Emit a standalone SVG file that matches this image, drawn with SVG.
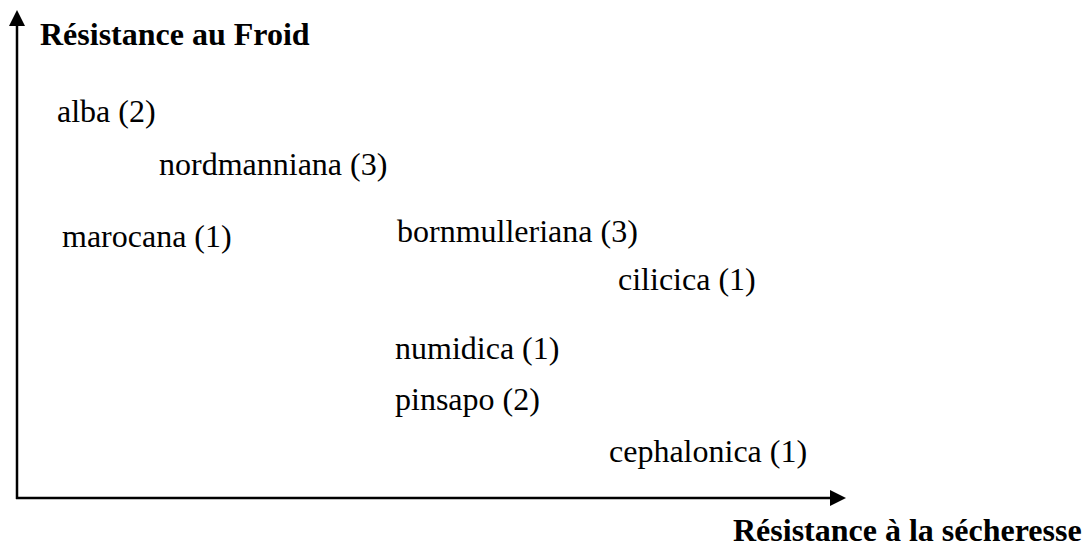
<svg xmlns="http://www.w3.org/2000/svg" width="1085" height="547" viewBox="0 0 1085 547">
<style>
text{font-family:"Liberation Serif","Times New Roman",serif;font-size:32px;fill:#000}
.b{font-weight:bold}
.ax{stroke:#000;stroke-width:2.5;fill:none}
</style>
<defs>
<marker id="ah" viewBox="0 0 16 16" refX="0" refY="8" markerWidth="16" markerHeight="16" markerUnits="userSpaceOnUse" orient="auto">
<path d="M0,0 L16,8 L0,16 Z" fill="#000"/>
</marker>
</defs>
<rect width="1085" height="547" fill="#fff"/>
<g id="connectors">
<path class="ax" d="M17,499 L17,26" marker-end="url(#ah)"/>
<path class="ax" d="M16,498 L830,498" marker-end="url(#ah)"/>
</g>
<g id="axis-y-label"><text class="b" x="40" y="45">Résistance au Froid</text></g>
<g id="axis-x-label"><text class="b" x="733" y="541">Résistance à la sécheresse</text></g>
<g id="alba"><text x="57" y="122">alba (2)</text></g>
<g id="nordmanniana"><text x="159" y="175">nordmanniana (3)</text></g>
<g id="marocana"><text x="62" y="247">marocana (1)</text></g>
<g id="bornmulleriana"><text x="397" y="242">bornmulleriana (3)</text></g>
<g id="cilicica"><text x="618" y="290">cilicica (1)</text></g>
<g id="numidica"><text x="395" y="359">numidica (1)</text></g>
<g id="pinsapo"><text x="395" y="410">pinsapo (2)</text></g>
<g id="cephalonica"><text x="609" y="462">cephalonica (1)</text></g>
</svg>
